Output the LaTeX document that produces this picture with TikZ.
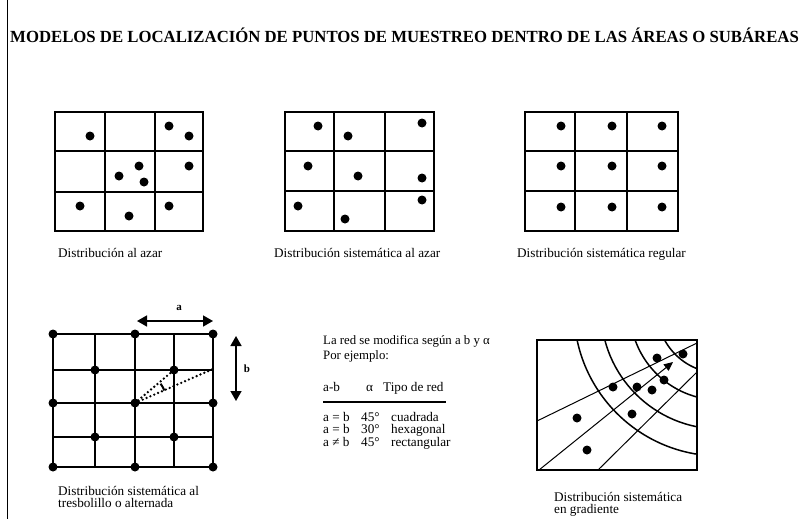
\documentclass[tikz,border=0pt]{standalone}
\usepackage{fontspec}
\setmainfont{Liberation Serif}
\usetikzlibrary{positioning,arrows.meta}
\tikzset{
    punto/.style={
        circle,
        fill=black, % puntos de muestreo
        inner sep=0,
        minimum size=9pt
    },
    rejilla/.style={
        line width=1.2pt
    },
    leyenda/.style={
        anchor=base west,
        inner sep=0,
        font=\fontsize{13.2}{14}\selectfont
    },
    punteada/.style={
        line width=2.6pt,
        line cap=round,
        dash pattern=on 0pt off 4.2pt
    },
    flecha/.style={
        {Triangle[width=11pt,length=10pt]}-{Triangle[width=11pt,length=10pt]},
        line width=1.6pt
    }
}

\begin{document}
\begin{tikzpicture}[x=1pt, y=-1pt]
    \useasboundingbox (0,0) rectangle (802,519);
    \draw[line width=1pt] (7,0) -- (7,519);
    \node[anchor=base west, inner sep=0, font=\bfseries\fontsize{17}{20}\selectfont] (titulo) at (10,43)
        {\scalebox{0.985}[1]{MODELOS DE LOCALIZACIÓN DE PUNTOS DE MUESTREO DENTRO DE LAS ÁREAS O SUBÁREAS}};

    % distribucion al azar
    \draw[rejilla] (55,112) rectangle (203,231);
    \foreach \x in {105,155} \draw[rejilla] (\x,112) -- (\x,231);
    \foreach \y in {151,192} \draw[rejilla] (55,\y) -- (203,\y);
    \foreach \p [count=\k] in {(90,136),(169,126),(189,136),(119,176),(139,166),(144,182),(189,166),(80,206),(129,216),(169,206)}
        \node[punto] (az-\k) at \p {};
    \node[leyenda] (ley-azar) at (58,257) {Distribución al azar};

    % distribucion sistematica al azar
    \draw[rejilla] (285,112) rectangle (434,231);
    \foreach \x in {334,385} \draw[rejilla] (\x,112) -- (\x,231);
    \foreach \y in {151,191} \draw[rejilla] (285,\y) -- (434,\y);
    \foreach \p [count=\k] in {(318,126),(348,136),(422,123),(308,166),(358,176),(422,178),(298,206),(422,200),(345,219)}
        \node[punto] (sa-\k) at \p {};
    \node[leyenda] (ley-sisazar) at (274,257) {Distribución sistemática al azar};

    % distribucion sistematica regular
    \draw[rejilla] (525,112) rectangle (678,231);
    \foreach \x in {575,627} \draw[rejilla] (\x,112) -- (\x,231);
    \foreach \y in {151,191} \draw[rejilla] (525,\y) -- (678,\y);
    \foreach \x [count=\c] in {561,612,662}
        \foreach \y [count=\r] in {126,166,207}
            \node[punto] (re-\r-\c) at (\x,\y) {};
    \node[leyenda] (ley-regular) at (517,257) {Distribución sistemática regular};

    % tresbolillo
    \foreach \y in {334,370,403,437,467} \draw[rejilla] (53,\y) -- (213,\y);
    \foreach \x in {53,95,135,174,213} \draw[rejilla] (\x,334) -- (\x,467);
    \foreach \x [count=\c] in {53,95,135,174,213}
        \foreach \y [count=\r] in {334,370,403,437,467} {
            \pgfmathtruncatemacro\paridad{mod(\r+\c,2)}
            \ifnum\paridad=0
                \node[punto] (tr-\r-\c) at (\x,\y) {};
            \fi
        }
    \coordinate (borde-b) at (213,369);
    \draw[punteada] (tr-3-3.center) -- (tr-2-4.center);
    \draw[punteada] (tr-3-3.center) -- (borde-b);
    \draw[line width=2pt] ([shift={(-23:32)}]tr-3-3.center) arc[start angle=-23, end angle=-37, radius=32];
    \coordinate (a-ini) at (137,321);
    \coordinate (a-fin) at (213,321);
    \draw[flecha] (a-ini) -- (a-fin);
    \node[font=\bfseries\fontsize{11}{12}\selectfont] (lab-a) at (179,308) {a};
    \coordinate (b-ini) at (236,336);
    \coordinate (b-fin) at (236,401);
    \draw[flecha] (b-ini) -- (b-fin);
    \node[font=\bfseries\fontsize{11}{12}\selectfont] (lab-b) at (247,369) {b};
    \node[leyenda] (ley-tres1) at (58,495) {Distribución sistemática al};
    \node[leyenda] (ley-tres2) at (58,507) {tresbolillo o alternada};

    % texto central
    \node[leyenda, font=\fontsize{12.8}{14}\selectfont] (red1) at (323,344) {La red se modifica según a b y α};
    \node[leyenda, font=\fontsize{12.8}{14}\selectfont] (red2) at (323,359) {Por ejemplo:};
    \node[leyenda] (cab1) at (323,391) {a-b};
    \node[leyenda] (cab2) at (366,391) {α};
    \node[leyenda] (cab3) at (383,391) {Tipo de red};
    \draw[line width=1.2pt] (323,402) -- (446,402);
    \foreach \ab/\ang/\tipo [count=\k] in {a = b/45°/cuadrada, a = b/30°/hexagonal, a ≠ b/45°/rectangular} {
        \node[leyenda] (fila-\k-1) at (323,421+12.8*\k-12.8) {\ab};
        \node[leyenda] (fila-\k-2) at (361,421+12.8*\k-12.8) {\ang};
        \node[leyenda] (fila-\k-3) at (391,421+12.8*\k-12.8) {\tipo};
    }

    % gradiente
    \begin{scope}
        \clip (537,340) rectangle (697,470);
        \foreach \rr in {63,90,119,146}
            \draw[line width=1.5pt] (720,310) circle[radius=\rr];
    \end{scope}
    \draw[rejilla] (537,340) rectangle (697,470);
    \coordinate (ga-ini) at (537,421);
    \coordinate (ga-fin) at (697,343);
    \coordinate (gb-ini) at (539,470);
    \coordinate (gb-fin) at (673,362);
    \coordinate (gc-ini) at (598,470);
    \coordinate (gc-fin) at (697,372);
    \draw[line width=1pt] (ga-ini) -- (ga-fin);
    \draw[line width=1pt, -{Triangle[width=8pt,length=9pt]}] (gb-ini) -- (gb-fin);
    \draw[line width=1pt] (gc-ini) -- (gc-fin);
    \foreach \p [count=\k] in {(657,358),(683,354),(613,387),(637,387),(652,390),(664,380),(632,414),(577,418),(587,450)}
        \node[punto] (gr-\k) at \p {};
    \node[leyenda] (ley-grad1) at (554,501) {Distribución sistemática};
    \node[leyenda] (ley-grad2) at (554,513) {en gradiente};
\end{tikzpicture}
\end{document}
